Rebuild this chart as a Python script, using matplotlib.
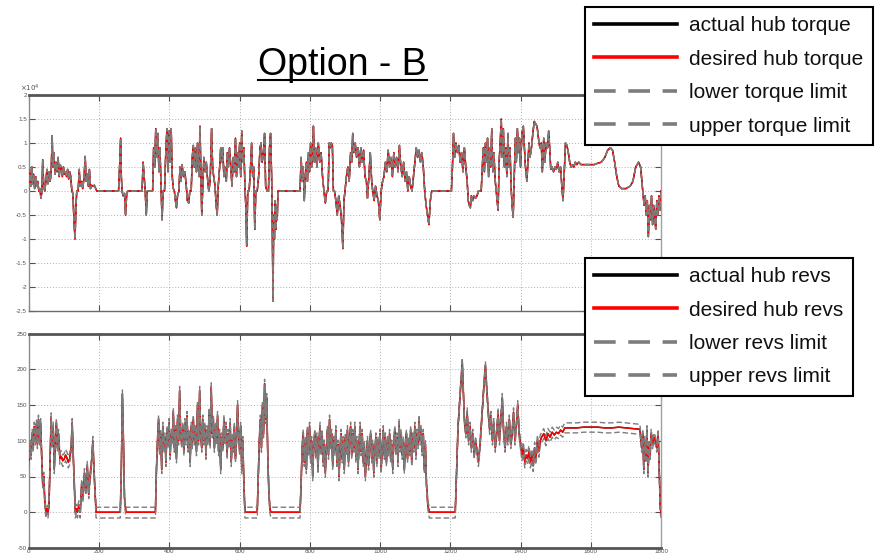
import matplotlib
matplotlib.use('Agg')
import matplotlib.pyplot as plt
from matplotlib.lines import Line2D
from matplotlib.ticker import FuncFormatter, MultipleLocator

plt.rcParams['font.family'] = ['Liberation Sans', 'DejaVu Sans']

# ---------------- data (torque in units of 10^4) ----------------
torque_x = [0, 3, 5, 8, 10, 13, 16, 19, 22, 25, 28, 31, 34, 37, 39, 42, 45, 48, 51, 54,
            57, 60, 63, 66, 68, 71, 74, 77, 80, 83, 86, 89, 92, 95, 98, 101, 104, 107, 110, 113,
            116, 119, 122, 125, 128, 131, 134, 136, 140, 143, 146, 150, 153, 157, 160, 163, 166, 169, 172, 175,
            178, 182, 186, 190, 193, 255, 258, 261, 263, 265, 268, 272, 275, 278, 281, 322, 325, 328, 331, 334,
            337, 352, 355, 358, 361, 364, 367, 370, 373, 376, 379, 382, 386, 390, 393, 396, 399, 402, 405, 408,
            411, 414, 417, 420, 423, 427, 430, 433, 436, 440, 444, 448, 451, 455, 458, 462, 465, 468, 471, 474,
            477, 480, 484, 487, 490, 492, 495, 498, 502, 505, 508, 512, 516, 520, 523, 526, 530, 533, 536, 539,
            543, 546, 549, 552, 555, 558, 562, 565, 568, 571, 574, 578, 582, 585, 588, 591, 594, 597, 600, 603,
            606, 609, 612, 615, 618, 620, 623, 627, 631, 634, 637, 640, 643, 646, 650, 654, 658, 661, 664, 668,
            671, 674, 678, 682, 685, 688, 691, 693, 695, 697, 699, 701, 703, 705, 707, 709, 772, 775, 778, 781,
            784, 787, 790, 793, 796, 799, 802, 805, 808, 810, 813, 816, 820, 824, 828, 832, 836, 840, 844, 848,
            852, 855, 858, 861, 864, 867, 870, 874, 878, 882, 886, 890, 894, 897, 900, 904, 908, 912, 916, 919,
            922, 925, 929, 933, 937, 941, 945, 949, 953, 957, 961, 964, 968, 972, 976, 979, 983, 987, 991, 995,
            999, 1003, 1007, 1011, 1015, 1019, 1023, 1027, 1031, 1035, 1039, 1043, 1047, 1051, 1055, 1059, 1063, 1067, 1071, 1075,
            1079, 1083, 1087, 1091, 1095, 1099, 1103, 1107, 1111, 1115, 1119, 1123, 1127, 1131, 1135, 1139, 1143, 1147, 1203, 1206,
            1209, 1212, 1216, 1220, 1224, 1228, 1232, 1236, 1240, 1244, 1248, 1251, 1254, 1257, 1260, 1264, 1268, 1272, 1276, 1280,
            1288, 1291, 1294, 1297, 1300, 1303, 1306, 1309, 1312, 1315, 1318, 1321, 1324, 1328, 1332, 1336, 1339, 1342, 1345, 1348,
            1351, 1354, 1358, 1361, 1364, 1367, 1370, 1373, 1376, 1379, 1382, 1385, 1388, 1391, 1394, 1397, 1400, 1404, 1408, 1411,
            1414, 1418, 1421, 1424, 1427, 1431, 1435, 1439, 1443, 1447, 1451, 1455, 1459, 1462, 1466, 1469, 1473, 1477, 1480, 1483,
            1486, 1490, 1494, 1498, 1502, 1506, 1510, 1514, 1518, 1521, 1524, 1528, 1532, 1536, 1540, 1544, 1548, 1552, 1556, 1560,
            1566, 1572, 1580, 1590, 1600, 1610, 1620, 1630, 1640, 1648, 1656, 1662, 1668, 1674, 1680, 1688, 1700, 1712, 1720, 1728,
            1736, 1742, 1748, 1752, 1755, 1758, 1761, 1764, 1767, 1770, 1773, 1776, 1779, 1782, 1785, 1788, 1791, 1794, 1797, 1800]
torque_desired = [0.05, 0.45, 0.1, 0.5, 0.15, 0.35, 0.05, 0.3, 0.1, 0.2, 0.0, 0.05, -0.15, 0.0, 0.65, 0.1, 0.0, 0.2, 0.45, 0.15,
                  0.4, 0.2, 0.35, 1.15, 0.5, 0.8, 0.35, 0.6, 0.4, 0.7, 0.3, 0.55, 0.45, 0.3, 0.5, 0.35, 0.4, 0.3, 0.45, 0.25,
                  0.4, 0.3, 0.0, -0.05, -0.6, -1.0, -0.3, 0.0, 0.0, 0.45, 0.1, 0.2, 0.05, 0.3, 0.72, 0.2, 0.35, 0.1, 0.45, 0.05,
                  0.12, 0.1, 0.12, 0.05, 0.0, 0.0, 0.5, 1.1, 0.3, 0.0, -0.1, -0.05, -0.5, -0.1, 0.0, 0.0, 0.6, 0.3, 0.0, -0.5,
                  0.0, 0.0, 0.9, 0.5, 1.3, 0.7, 1.2, 0.4, 0.9, 0.1, -0.6, 0.0, 0.0, 0.9, 1.3, 0.4, 1.25, 0.6, 1.3, 0.3,
                  0.05, 0.0, -0.2, -0.35, -0.1, 0.0, 0.5, 0.2, 0.55, 0.3, 0.4, 0.1, -0.2, -0.25, 0.0, 0.0, 0.7, 0.95, 0.5, 0.9,
                  0.4, 1.0, 0.3, 1.35, 0.2, -0.5, 0.1, 0.7, 0.4, 0.6, 0.3, 0.0, 0.2, 1.3, 0.5, 0.3, 0.1, -0.3, -0.5, 0.1,
                  0.5, 0.9, 0.6, 0.9, 0.3, 0.5, 0.2, 0.8, 0.5, 0.9, 0.6, 0.1, 0.7, 0.4, 1.1, 0.3, 0.8, 0.5, 1.0, 0.3,
                  1.25, 0.6, 0.9, 0.1, -0.4, -1.15, 0.0, 0.0, 0.5, 1.0, 0.3, 0.5, -0.8, 0.0, 0.0, 0.3, 0.9, 1.0, 0.6, 0.8,
                  1.2, 0.1, 0.0, 0.0, 0.9, 1.2, 0.3, -0.8, -2.3, -0.5, -1.0, -0.2, -0.8, -0.3, -0.6, 0.0, 0.0, 0.7, 0.2, 0.5,
                  -0.2, 0.3, 0.6, 0.2, 0.8, 0.4, 1.0, 0.5, 0.8, 1.35, 0.6, 0.9, 0.5, 1.0, 0.6, 0.8, 0.3, 0.0, -0.25, 0.0,
                  0.0, 1.0, 0.9, 1.0, 0.95, 0.0, 0.0, -0.2, -0.5, -0.1, -0.3, -0.6, -1.2, -0.2, 0.0, 0.3, 0.5, 0.2, 0.8, 0.6,
                  1.2, 0.8, 1.0, 0.7, 0.9, 0.5, 0.9, 0.6, 0.85, 0.3, 0.2, -0.15, 0.3, 0.8, 0.2, 0.0, -0.2, 0.1, -0.1, -0.2,
                  -0.6, 0.0, 0.2, 0.3, 0.6, 0.4, 0.85, 0.5, 0.7, 0.3, 0.8, 0.5, 0.7, 0.4, 0.95, 0.5, 0.3, 0.6, 0.2, 0.4,
                  0.0, 0.3, 0.1, 0.0, 0.3, 0.6, 0.9, 0.7, 0.85, 0.6, 0.8, 0.5, 0.0, -0.3, -0.5, -0.7, -0.2, 0.0, 0.0, 0.5,
                  1.2, 0.7, 1.0, 0.8, 0.95, 0.6, 0.8, 0.4, 0.9, 0.5, 0.2, -0.2, -0.3, -0.35, -0.1, -0.2, -0.1, -0.15, -0.1, 0.0,
                  0.0, 0.5, 0.9, 0.4, 1.0, 0.6, 1.1, 0.3, 0.9, 0.5, 1.3, 0.4, 0.8, 0.2, -0.1, -0.4, 0.6, 1.0, 1.5, 0.7,
                  1.3, 0.5, 0.9, 0.3, 1.2, 0.5, 0.9, 0.1, -0.3, -0.55, 0.3, 1.1, 0.6, 1.3, 0.8, 1.1, 0.5, 1.2, 1.35, 0.9,
                  0.5, 0.2, 0.6, 1.0, 0.7, 0.9, 1.2, 1.45, 1.4, 1.35, 1.1, 0.9, 1.0, 0.4, 1.1, 0.6, 1.0, 0.9, 1.25, 0.9,
                  0.45, 0.5, 0.4, 0.5, 0.45, 0.6, 0.4, 0.5, 0.05, -0.2, 0.3, 1.0, 0.95, 0.8, 0.6, 0.5, 0.55, 0.5, 0.6, 0.55,
                  0.6, 0.55, 0.55, 0.55, 0.55, 0.55, 0.58, 0.6, 0.7, 0.85, 0.9, 0.85, 0.6, 0.3, 0.1, 0.05, 0.05, 0.1, 0.2, 0.5,
                  0.6, 0.5, 0.0, -0.3, -0.1, -0.5, -0.2, -0.95, -0.3, -0.6, -0.1, -0.7, -0.3, -0.5, -0.8, -0.2, -0.5, -0.1, -0.4, 0.0]
torque_actual = torque_desired
torque_lower = torque_desired
torque_upper = torque_desired

# ---------------- data (hub revs) ----------------
revs_x = [0, 3, 6, 9, 12, 15, 18, 21, 24, 27, 30, 33, 36, 39, 42, 45, 48, 51, 54, 57,
          60, 63, 66, 69, 72, 75, 78, 81, 84, 88, 92, 96, 100, 104, 108, 112, 116, 120, 123, 126,
          129, 132, 135, 138, 142, 146, 150, 154, 158, 162, 166, 170, 174, 178, 182, 185, 188, 191,
          260, 263, 266, 269, 272, 276, 360,
          363, 366, 369, 372, 375, 378, 381, 384, 387, 390, 393, 396, 399, 402, 405, 408, 411, 414, 417, 420,
          423, 426, 429, 432, 435, 438, 441, 444, 447, 450, 453, 456, 459, 462, 465, 468, 471, 474, 477, 480,
          483, 486, 489, 492, 495, 498, 501, 504, 507, 510, 513, 516, 519, 522, 525, 528, 531, 534, 537, 540,
          543, 546, 549, 552, 555, 558, 561, 564, 567, 570, 573, 576, 579, 582, 585, 588, 591, 594, 597, 600,
          603, 606, 609, 612, 615, 650,
          653, 656, 659, 662, 665, 668, 671, 674, 677, 680, 683, 686, 689, 772,
          775, 778, 781, 784, 787, 790, 793, 796, 799, 802, 805, 808, 811, 814, 817, 820, 823, 826, 829, 832,
          835, 838, 841, 844, 847, 850, 853, 856, 859, 862, 865, 868, 871, 874, 877, 880, 883, 886, 889, 892,
          895, 898, 901, 904, 907, 910, 913, 916, 919, 922, 925, 928, 931, 934, 937, 940, 943, 946, 949, 952,
          955, 958, 961, 964, 967, 970, 973, 976, 979, 982, 985, 988, 991, 994, 997, 1000, 1003, 1006, 1009, 1012,
          1015, 1018, 1021, 1024, 1027, 1030, 1033, 1036, 1039, 1042, 1045, 1048, 1051, 1054, 1057, 1060, 1063, 1066, 1069, 1072,
          1075, 1078, 1081, 1084, 1087, 1090, 1093, 1096, 1099, 1102, 1105, 1108, 1111, 1114, 1117, 1120, 1123, 1126, 1129, 1132,
          1136, 1140, 1214,
          1218, 1222, 1226, 1230, 1234, 1237, 1240, 1244, 1248, 1252, 1256, 1260, 1264, 1268, 1272, 1276, 1280, 1284, 1288, 1292,
          1296, 1300, 1304, 1308, 1312, 1316, 1320, 1324, 1328, 1332, 1336, 1340, 1344, 1348, 1352, 1356, 1360, 1364, 1368, 1372,
          1376, 1380, 1384, 1388, 1392, 1396, 1400, 1404, 1408, 1412, 1416, 1420, 1424, 1428, 1432, 1436, 1440, 1444, 1448, 1452,
          1456, 1460, 1466, 1472, 1478, 1484, 1490, 1496, 1502, 1508, 1514, 1520, 1526, 1540, 1560, 1580, 1600, 1620, 1640, 1660,
          1680, 1700, 1720, 1740,
          1745, 1748, 1751, 1754, 1757, 1760, 1763, 1766, 1769, 1772, 1776, 1780, 1784, 1788, 1792, 1795, 1798, 1800]
revs_desired = [70, 95, 80, 110, 90, 120, 100, 123, 95, 130, 100, 125, 80, 40, 50, 15, 0, 5, 0, 10,
                70, 133, 95, 120, 60, 100, 125, 90, 110, 75, 78, 72, 74, 80, 76, 70, 75, 90, 125, 80,
                40, 0, 5, 0, 10, 0, 40, 20, 55, 30, 65, 25, 50, 70, 100, 60, 30, 0,
                0, 60, 165, 100, 20, 0, 0,
                60, 100, 130, 85, 110, 60, 120, 90, 105, 70, 115, 95, 125, 80, 110, 100, 140, 90, 115, 75,
                130, 100, 170, 110, 95, 120, 85, 125, 100, 135, 90, 110, 70, 120, 95, 130, 100, 115, 85, 150,
                100, 170, 110, 90, 130, 100, 120, 80, 115, 100, 140, 95, 175, 110, 130, 90, 120, 100, 135, 85,
                110, 60, 105, 90, 130, 100, 120, 80, 110, 95, 125, 70, 105, 90, 120, 75, 100, 150, 110, 85,
                120, 60, 100, 40, 0, 0,
                50, 100, 130, 90, 150, 110, 180, 130, 160, 80, 30, 5, 0, 0,
                40, 90, 110, 70, 100, 60, 115, 85, 120, 75, 100, 50, 95, 110, 80, 105, 60, 100, 120, 85,
                110, 70, 95, 55, 90, 115, 80, 130, 95, 110, 65, 100, 85, 115, 70, 95, 50, 90, 110, 75,
                100, 60, 105, 85, 115, 70, 100, 120, 80, 110, 90, 120, 75, 100, 60, 95, 120, 85, 110, 70,
                95, 50, 80, 100, 65, 90, 110, 75, 95, 55, 85, 105, 70, 100, 80, 110, 60, 90, 115, 80,
                105, 70, 100, 85, 110, 75, 95, 60, 100, 115, 85, 105, 70, 125, 90, 110, 80, 100, 60, 95,
                110, 75, 100, 85, 115, 70, 105, 90, 120, 80, 110, 95, 130, 100, 115, 85, 110, 60, 95, 40,
                10, 0, 0,
                60, 120, 150, 180, 210, 170, 130, 110, 140, 100, 120, 90, 110, 80, 100, 85, 70, 90, 120, 150,
                180, 205, 170, 140, 115, 135, 100, 125, 90, 110, 140, 100, 130, 160, 110, 90, 120, 100, 130, 95,
                110, 140, 100, 120, 150, 110, 95, 80, 90, 70, 80, 75, 85, 70, 80, 65, 90, 75, 100, 85,
                100, 105, 110, 100, 110, 105, 112, 108, 112, 110, 115, 112, 118, 118, 118, 119, 119, 119, 118, 118,
                119, 118, 117, 116,
                90, 110, 60, 100, 75, 115, 55, 95, 80, 110, 95, 105, 100, 90, 110, 60, 5, 0]
revs_actual = revs_desired
revs_upper = [76, 101, 86, 116, 96, 126, 106, 129, 101, 136, 106, 131, 86, 46, 56, 21, 7, 11, 7, 16,
              76, 139, 101, 126, 66, 106, 131, 96, 116, 83, 86, 80, 82, 88, 84, 78, 83, 96, 131, 86,
              46, 7, 11, 7, 16, 7, 46, 26, 61, 36, 71, 31, 56, 76, 106, 66, 36, 7,
              7, 66, 171, 106, 26, 7, 7,
              66, 106, 136, 91, 116, 66, 126, 96, 111, 76, 121, 101, 131, 86, 116, 106, 146, 96, 121, 81,
              136, 106, 176, 116, 101, 126, 91, 131, 106, 141, 96, 116, 76, 126, 101, 136, 106, 121, 91, 156,
              106, 176, 116, 96, 136, 106, 126, 86, 121, 106, 146, 101, 181, 116, 136, 96, 126, 106, 141, 91,
              116, 66, 111, 96, 136, 106, 126, 86, 116, 101, 131, 76, 111, 96, 126, 81, 106, 156, 116, 91,
              126, 66, 106, 46, 7, 7,
              56, 106, 136, 96, 156, 116, 186, 136, 166, 86, 36, 11, 7, 7,
              46, 96, 116, 76, 106, 66, 121, 91, 126, 81, 106, 56, 101, 116, 86, 111, 66, 106, 126, 91,
              116, 76, 101, 61, 96, 121, 86, 136, 101, 116, 71, 106, 91, 121, 76, 101, 56, 96, 116, 81,
              106, 66, 111, 91, 121, 76, 106, 126, 86, 116, 96, 126, 81, 106, 66, 101, 126, 91, 116, 76,
              101, 56, 86, 106, 71, 96, 116, 81, 101, 61, 91, 111, 76, 106, 86, 116, 66, 96, 121, 86,
              111, 76, 106, 91, 116, 81, 101, 66, 106, 121, 91, 111, 76, 131, 96, 116, 86, 106, 66, 101,
              116, 81, 106, 91, 121, 76, 111, 96, 126, 86, 116, 101, 136, 106, 121, 91, 116, 66, 101, 46,
              16, 7, 7,
              66, 126, 156, 186, 216, 176, 136, 116, 146, 106, 126, 96, 116, 86, 106, 91, 76, 96, 126, 156,
              186, 211, 176, 146, 121, 141, 106, 131, 96, 116, 146, 106, 136, 166, 116, 96, 126, 106, 136, 101,
              116, 146, 106, 126, 156, 116, 103, 88, 98, 78, 88, 83, 93, 78, 88, 73, 98, 83, 108, 93,
              108, 112, 117, 107, 117, 112, 119, 115, 119, 117, 122, 119, 125, 125, 125, 126, 126, 126, 125, 125,
              126, 125, 124, 123,
              96, 116, 66, 106, 81, 121, 61, 101, 86, 116, 101, 111, 106, 96, 116, 66, 11, 7]
revs_lower = [64, 89, 74, 104, 84, 114, 94, 117, 89, 124, 94, 119, 74, 34, 44, 9, -8, -1, -8, 4,
              64, 127, 89, 114, 54, 94, 119, 84, 104, 67, 70, 64, 66, 72, 68, 62, 67, 84, 119, 74,
              34, -8, -1, -8, 4, -8, 34, 14, 49, 24, 59, 19, 44, 64, 94, 54, 24, -8,
              -8, 54, 159, 94, 14, -8, -8,
              54, 94, 124, 79, 104, 54, 114, 84, 99, 64, 109, 89, 119, 74, 104, 94, 134, 84, 109, 69,
              124, 94, 164, 104, 89, 114, 79, 119, 94, 129, 84, 104, 64, 114, 89, 124, 94, 109, 79, 144,
              94, 164, 104, 84, 124, 94, 114, 74, 109, 94, 134, 89, 169, 104, 124, 84, 114, 94, 129, 79,
              104, 54, 99, 84, 124, 94, 114, 74, 104, 89, 119, 64, 99, 84, 114, 69, 94, 144, 104, 79,
              114, 54, 94, 34, -8, -8,
              44, 94, 124, 84, 144, 104, 174, 124, 154, 74, 24, -1, -8, -8,
              34, 84, 104, 64, 94, 54, 109, 79, 114, 69, 94, 44, 89, 104, 74, 99, 54, 94, 114, 79,
              104, 64, 89, 49, 84, 109, 74, 124, 89, 104, 59, 94, 79, 109, 64, 89, 44, 84, 104, 69,
              94, 54, 99, 79, 109, 64, 94, 114, 74, 104, 84, 114, 69, 94, 54, 89, 114, 79, 104, 64,
              89, 44, 74, 94, 59, 84, 104, 69, 89, 49, 79, 99, 64, 94, 74, 104, 54, 84, 109, 74,
              99, 64, 94, 79, 104, 69, 89, 54, 94, 109, 79, 99, 64, 119, 84, 104, 74, 94, 54, 89,
              104, 69, 94, 79, 109, 64, 99, 84, 114, 74, 104, 89, 124, 94, 109, 79, 104, 54, 89, 34,
              4, -8, -8,
              54, 114, 144, 174, 204, 164, 124, 104, 134, 94, 114, 84, 104, 74, 94, 79, 64, 84, 114, 144,
              174, 199, 164, 134, 109, 129, 94, 119, 84, 104, 134, 94, 124, 154, 104, 84, 114, 94, 124, 89,
              104, 134, 94, 114, 144, 104, 87, 72, 82, 62, 72, 67, 77, 62, 72, 57, 82, 67, 92, 77,
              92, 98, 103, 93, 103, 98, 105, 101, 105, 103, 108, 105, 111, 111, 111, 112, 112, 112, 111, 111,
              112, 111, 110, 109,
              84, 104, 54, 94, 69, 109, 49, 89, 74, 104, 89, 99, 94, 84, 104, 54, -1, -8]

torque_labels = ['actual hub torque', 'desired hub torque', 'lower torque limit', 'upper torque limit']
revs_labels = ['actual hub revs', 'desired hub revs', 'lower revs limit', 'upper revs limit']
title_text = 'Option - B'

# ---------------- figure ----------------
W, H = 877, 555
fig = plt.figure(figsize=(W / 100, H / 100), dpi=100)
fig.patch.set_facecolor('white')


def frac(x0, y0, x1, y1):
    return [x0 / W, 1 - y1 / H, (x1 - x0) / W, (y1 - y0) / H]


ax1 = fig.add_axes(frac(29, 95, 661, 311))
ax2 = fig.add_axes(frac(29, 333.5, 661, 548))

GRAY = '#7c7c7c'
DASH = (0, (4, 2))


def draw(ax, x, act, des, low, up):
    la, = ax.plot(x, act, color='black', lw=1.0, zorder=3)
    ld, = ax.plot(x, des, color='#ff0000', lw=1.1, zorder=4)
    ll, = ax.plot(x, low, color=GRAY, lw=1.0, ls=DASH, zorder=5)
    lu, = ax.plot(x, up, color=GRAY, lw=1.0, ls=DASH, zorder=6)
    return [la, ld, ll, lu]


h1 = draw(ax1, torque_x, torque_actual, torque_desired, torque_lower, torque_upper)
h2 = draw(ax2, revs_x, revs_actual, revs_desired, revs_lower, revs_upper)


def style(ax):
    ax.set_xlim(0, 1800)
    ax.xaxis.set_major_locator(MultipleLocator(200))
    ax.grid(True, linestyle=(0, (1, 2)), color='#b0b0b0', linewidth=0.7)
    ax.set_axisbelow(True)
    ax.tick_params(direction='in', length=4, width=0.8, colors='#505050',
                   labelsize=4.5, top=True, right=True, pad=1.5)
    for s in ax.spines.values():
        s.set_color('#6a6a6a')
        s.set_linewidth(1.0)
    ax.spines['top'].set_linewidth(2.0)
    ax.spines['top'].set_color('#555555')
    ax.spines['left'].set_color('#8a8a8a')
    ax.spines['right'].set_color('#a0a0a0')


style(ax1)
style(ax2)
ax1.set_ylim(-2.5, 2.0)
ax1.yaxis.set_major_locator(MultipleLocator(0.5))
ax1.yaxis.set_major_formatter(FuncFormatter(lambda v, p: f'{v:g}'))
ax1.tick_params(labelbottom=False)
ax2.set_ylim(-50, 250)
ax2.yaxis.set_major_locator(MultipleLocator(50))
ax2.yaxis.set_major_formatter(FuncFormatter(lambda v, p: f'{v:g}'))
ax2.spines['bottom'].set_linewidth(2.0)
ax2.spines['bottom'].set_color('#555555')
ax2.tick_params(axis='x', pad=1)

fig.text(20 / W, 1 - 91 / H, r'$\times10^{4}$', fontsize=5, color='#505050',
         ha='left', va='baseline')

# title with underline
t = fig.text(342.5 / W, 1 - 75 / H, title_text, fontsize=27, ha='center', va='baseline')
fig.canvas.draw()
bb = t.get_window_extent()
fig.add_artist(Line2D([bb.x0 / W, bb.x1 / W], [1 - 79.5 / H] * 2,
                      transform=fig.transFigure, color='black', lw=1.5))


def make_legend(handles, labels, top_px):
    leg = fig.legend(handles, labels, loc='upper left',
                     bbox_to_anchor=(585 / W, 1 - top_px / H), borderaxespad=0,
                     frameon=True, fancybox=False, framealpha=1, edgecolor='black',
                     fontsize=15, handlelength=3.95, handletextpad=0.6,
                     labelspacing=0.69, borderpad=0.45)
    leg.get_frame().set_linewidth(1.5)
    for i, ln in enumerate(leg.get_lines()):
        ln.set_linewidth(2.6)
        if i >= 2:
            ln.set_linestyle((0, (6, 3.5)))
    for txt in leg.get_texts():
        txt.set_color('#111111')
    return leg


make_legend(h1, torque_labels, 7)
make_legend(h2, revs_labels, 258)

fig.savefig('out.png', dpi=100, facecolor='white')
